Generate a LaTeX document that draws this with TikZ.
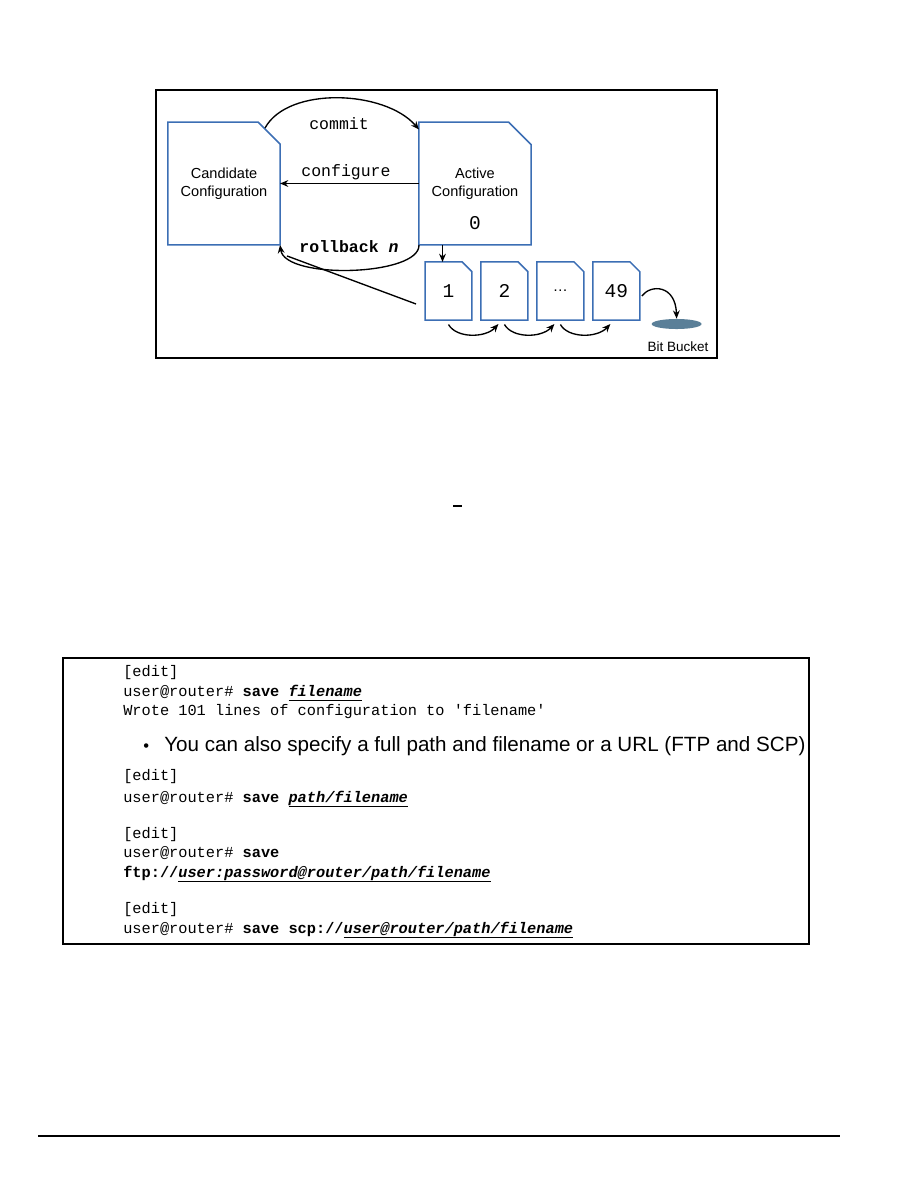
\documentclass[tikz,border=0pt]{standalone}
\usepackage{fontspec}
\setmainfont{Liberation Sans}
\setmonofont{Liberation Mono}
\usetikzlibrary{shapes.geometric, arrows.meta, positioning, calc}

\definecolor{docblue}{HTML}{3C6EB4}
\definecolor{bucketgray}{HTML}{5A7F98}

\newsavebox{\argbox}
\newcommand{\argul}[1]{\sbox{\argbox}{\textbf{\textit{#1}}}\rlap{\rule[-3pt]{\wd\argbox}{0.9pt}}\usebox{\argbox}}
\newcommand{\dogear}[2]{\draw[docline] (#1.south west) -- (#1.north west) -- ([xshift=-#2]#1.north east) -- ([yshift=-#2]#1.north east) -- (#1.south east) -- cycle;}

\begin{document}
\begin{tikzpicture}[
    x=0.6667pt, y=-0.6667pt,
    node distance=6pt,
    doc/.style={rectangle, outer sep=0pt, inner sep=0pt, align=center},
    bigdoc/.style={doc, minimum width=74.7pt, minimum height=82pt, font=\fontsize{9.7}{12}\selectfont},
    smalldoc/.style={doc, minimum width=31.3pt, minimum height=38.7pt, font=\ttfamily\fontsize{13}{15}\selectfont},
    docline/.style={draw=docblue, line width=1pt},
    arrow/.style={-{Stealth[length=5.5pt, width=4.5pt]}, line width=0.9pt},
    cmd/.style={font=\ttfamily\fontsize{11}{13}\selectfont, inner sep=1pt},
    codeline/.style={anchor=base west, inner sep=0pt, font=\ttfamily\fontsize{10.2}{12}\selectfont},
]
\useasboundingbox (0,0) rectangle (918,1188);

\draw[line width=0.8pt] (156,90) rectangle (717,358);

\node[bigdoc] (cand) at (224,183.5) {Candidate\\Configuration};
\node[bigdoc] (active) at (475,183.5) {Active\\Configuration};
\node[font=\ttfamily\fontsize{13}{15}\selectfont] (zero) at (475,223) {0};
\dogear{cand}{14.7pt}
\dogear{active}{15pt}

\node[smalldoc] (d1) at (448.5,291) {1};
\node[smalldoc, right=of d1] (d2) {2};
\node[smalldoc, right=of d2] (d3) {\rmfamily\fontsize{10}{12}\selectfont\ldots};
\node[smalldoc, right=of d3] (d4) {49};
\foreach \d in {d1,d2,d3,d4} {\dogear{\d}{6.5pt}}

\node[ellipse, fill=bucketgray, minimum width=33.3pt, minimum height=6.7pt, inner sep=0pt] (bucket) at (676.6,324) {};
\node[font=\fontsize{9}{11}\selectfont] (bitlabel) at (678,347) {Bit Bucket};

\draw[arrow] ([shift={(-15,6)}]cand.north east) .. controls (288,86) and (385,90) .. ([yshift=-5pt]active.north west);
\node[cmd] (commitlbl) at (339,124) {commit};
\draw[arrow] (active.west) -- (cand.east);
\node[cmd] (configlbl) at (346,172) {configure};
\draw[arrow] (active.south west) .. controls (420,276) and (285,280) .. (cand.south east) coordinate[pos=0.88] (rbjoin);
\node[cmd] (rolllbl) at (349,247) {\textbf{rollback \textit{n}}};
\draw[line width=0.9pt] ([shift={(-9,13)}]d1.west) -- (rbjoin);

\coordinate (d1top) at ([xshift=-4pt]d1.north);
\draw[arrow] (d1top |- active.south) -- (d1top);
\foreach \a/\b in {d1/d2, d2/d3, d3/d4}
    \draw[arrow] ([yshift=-3pt]\a.south) .. controls +(8,14) and +(-13,14) .. ([shift={(-6,4)}]\b.south);
\draw[arrow] ([shift={(2,5)}]d4.east) .. controls +(9,-12) and +(-1,-34) .. (bucket.north);

\draw[line width=0.9pt] (453,506) -- (462,506);

\draw[line width=0.8pt] (63,658) rectangle (809,944);
\node[codeline] (e1) at (123,676.5) {[edit]};
\node[codeline] (s1) at (123,696.5) {user@router\# \textbf{save} \argul{filename}};
\node[codeline] (w1) at (123,715.5) {Wrote 101 lines of configuration to 'filename'};
\node[anchor=base west, inner sep=0pt, font=\fontsize{11}{13}\selectfont] (dot) at (143,751) {\textbullet};
\node[anchor=base west, inner sep=0pt, font=\fontsize{13.75}{16}\selectfont] (tip) at (164,751) {You can also specify a full path and filename or a URL (FTP and SCP)};
\node[codeline] (e2) at (123,780.5) {[edit]};
\node[codeline] (s2) at (123,802.5) {user@router\# \textbf{save} \argul{path/filename}};
\node[codeline] (e3) at (123,838.5) {[edit]};
\node[codeline] (s3) at (123,857.5) {user@router\# \textbf{save}};
\node[codeline] (f3) at (123,877.5) {\textbf{ftp://}\argul{user:password@router/path/filename}};
\node[codeline] (e4) at (123,913.5) {[edit]};
\node[codeline] (s4) at (123,933.5) {user@router\# \textbf{save scp://}\argul{user@router/path/filename}};

\draw[line width=0.8pt] (38,1136) -- (840,1136);

\end{tikzpicture}
\end{document}
